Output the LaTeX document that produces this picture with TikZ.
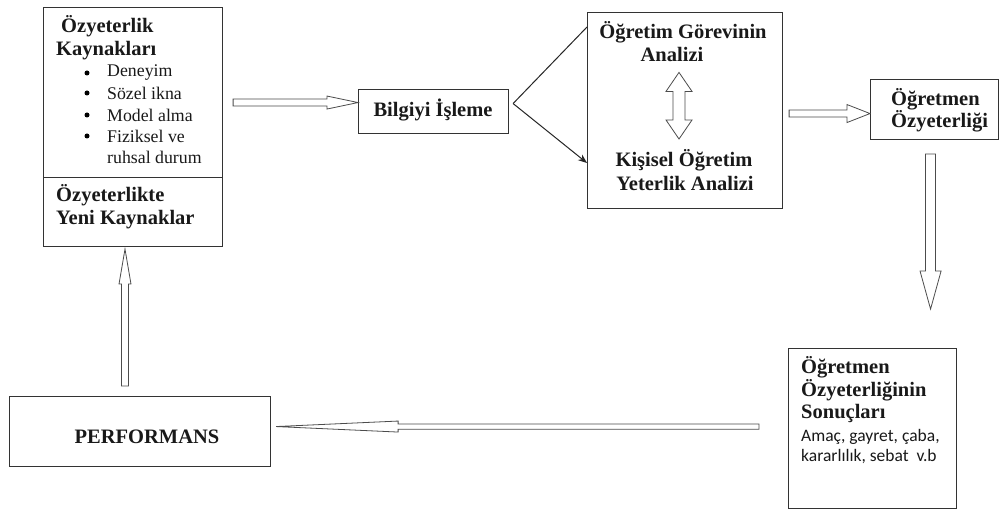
\documentclass[tikz,border=0pt]{standalone}
\usepackage{fontspec}
\setmainfont{Liberation Serif}
\newfontfamily\calfont{Carlito}
\usetikzlibrary{calc,arrows.meta}
\tikzset{
  box/.style={draw=black!80, line width=1.1pt, inner sep=0pt, anchor=north west, fill=white},
  bt/.style={font=\fontsize{20.5}{23}\selectfont\bfseries, inner sep=0pt, text=black!90},
  rt/.style={font=\fontsize{17.8}{20}\selectfont, inner sep=0pt, anchor=west, text=black!90},
  ct/.style={font=\calfont\fontsize{17.5}{20}\selectfont, inner sep=0pt, anchor=west, text=black!90},
  dot/.style={circle, fill=black, inner sep=0pt, minimum size=5pt},
  fatline/.style={draw=black!70, line width=0.8pt, fill=white, line join=miter},
  thinline/.style={draw=black!85, line width=1pt}
}
% #1 start, #2 tip, #3 shaft half width, #4 head half width, #5 head length
\newcommand\fatarrow[5]{%
  \coordinate (fah) at ($(#2)!#5!(#1)$);
  \draw[fatline] ($(#1)!#3!90:(#2)$) -- ($(fah)!#3!90:(#2)$) -- ($(fah)!#4!90:(#2)$) -- (#2)
    -- ($(fah)!#4!-90:(#2)$) -- ($(fah)!#3!-90:(#2)$) -- ($(#1)!#3!-90:(#2)$) -- cycle;}
\newcommand\fatdouble[5]{%
  \coordinate (fa1) at ($(#1)!#5!(#2)$);
  \coordinate (fa2) at ($(#2)!#5!(#1)$);
  \draw[fatline] (#1) -- ($(fa1)!#4!90:(#2)$) -- ($(fa1)!#3!90:(#2)$) -- ($(fa2)!#3!90:(#2)$)
    -- ($(fa2)!#4!90:(#2)$) -- (#2) -- ($(fa2)!#4!-90:(#2)$) -- ($(fa2)!#3!-90:(#2)$)
    -- ($(fa1)!#3!-90:(#2)$) -- ($(fa1)!#4!-90:(#2)$) -- cycle;}
\begin{document}
\begin{tikzpicture}[x=1pt,y=-1pt]
\useasboundingbox[fill=white] (0,0) rectangle (1000,510);

% boxes
\node[box, minimum width=179pt, minimum height=170pt] (src) at (43,7) {};
\node[box, minimum width=179pt, minimum height=69pt] (newsrc) at (43,177) {};
\node[box, minimum width=150pt, minimum height=44pt] (bilgi) at (358,89) {};
\node[box, minimum width=195pt, minimum height=196pt] (analiz) at (587,12) {};
\node[box, minimum width=128pt, minimum height=60pt] (ozy) at (870,79) {};
\node[box, minimum width=168pt, minimum height=160pt] (sonuc) at (788,348) {};
\node[box, minimum width=261pt, minimum height=70pt] (perf) at (9,396) {};

% texts: sources
\node[bt, anchor=west] (t1) at (61,26) {Özyeterlik};
\node[bt, anchor=west] (t2) at (56,51) {Kaynakları};
\foreach \yy/\tt [count=\i] in {73/Deneyim, 93/Sözel ikna, 115/Model alma, 136/Fiziksel ve} {
  \node[dot] (b\i) at (87,\yy) {};
  \node[rt] (l\i) at (107,\yy) {\tt};
}
\node[rt] (l5) at (107,157) {ruhsal durum};
\node[bt, anchor=west] (t3) at (56,195) {Özyeterlikte};
\node[bt, anchor=west] (t4) at (56,220) {Yeni Kaynaklar};

\node[bt] (t5) at (433,110) {Bilgiyi İşleme};

\node[bt] (t6) at (683,32) {Öğretim Görevinin};
\node[bt] (t7) at (672,54) {Analizi};
\node[bt] (t8) at (684,160) {Kişisel Öğretim};
\node[bt] (t9) at (685,183) {Yeterlik Analizi};

\node[bt, anchor=west] (t10) at (891,99) {Öğretmen};
\node[bt, anchor=west] (t11) at (891,121) {Özyeterliği};

\node[bt, anchor=west] (t12) at (801,367) {Öğretmen};
\node[bt, anchor=west] (t13) at (801,390) {Özyeterliğinin};
\node[bt, anchor=west] (t14) at (801,413) {Sonuçları};
\node[ct] (t15) at (801,437) {Amaç, gayret, çaba,};
\node[ct] (t16) at (801,457) {kararlılık, sebat\ \ v.b};

\node[bt] (t17) at (147,437) {PERFORMANS};

% connectors
\coordinate (a1s) at ($(src.east |- bilgi.west)+(10,-9)$);
\coordinate (a1e) at ($(bilgi.west)+(0,-9)$);
\fatarrow{a1s}{a1e}{3.5pt}{6.5pt}{31pt}

\coordinate (apex) at ($(bilgi.east)+(4,-8)$);
\coordinate (ctop) at ($(analiz.north west)+(0,15)$);
\coordinate (cbot) at ($(analiz.north west)+(0,151)$);
\draw[thinline] (apex) -- (ctop);
\draw[thinline, -{Stealth[length=9pt,width=7pt]}] (apex) -- (cbot);

\coordinate (d1) at ($(t7.south)+(7,11)$);
\coordinate (d2) at ($(t8.north)+(-5,-10)$);
\fatdouble{d1}{d2}{6pt}{13pt}{19pt}

\coordinate (a3s) at ($(analiz.east)+(6,3)$);
\coordinate (a3e) at (ozy.west |- a3s);
\fatarrow{a3s}{a3e}{3.5pt}{9pt}{23pt}

\coordinate (a4s) at ($(ozy.south)+(-4,14)$);
\coordinate (a4e) at ($(a4s)+(0,155)$);
\fatarrow{a4s}{a4e}{5pt}{10.5pt}{38pt}

\coordinate (a5s) at ($(sonuc.west)+(-29,-2)$);
\coordinate (a5e) at ($(perf.east |- a5s)+(5,0)$);
\fatarrow{a5s}{a5e}{2.6pt}{5.5pt}{122pt}

\coordinate (a6s) at ($(perf.north west)+(116,-10)$);
\coordinate (a6e) at ($(newsrc.south west)+(82,2)$);
\fatarrow{a6s}{a6e}{3.5pt}{6pt}{35pt}
\end{tikzpicture}
\end{document}
